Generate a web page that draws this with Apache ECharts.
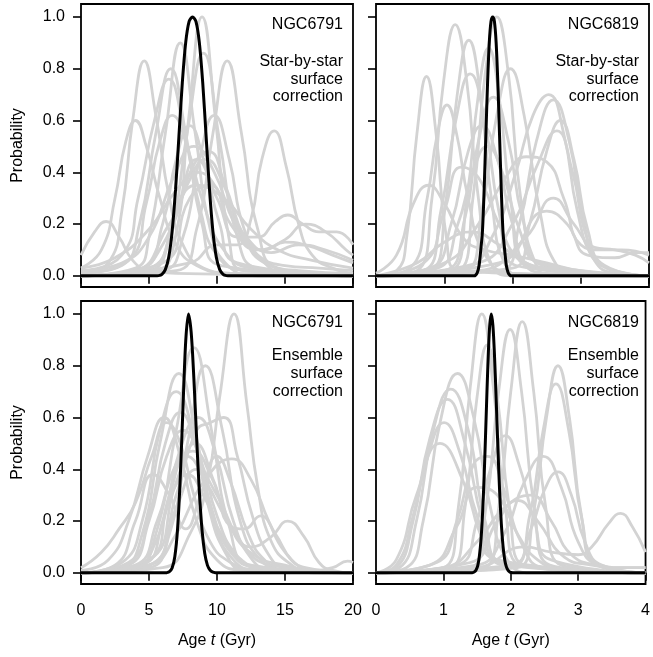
<!DOCTYPE html>
<html>
<head>
<meta charset="utf-8">
<script src="https://cdn.jsdelivr.net/npm/echarts@6/dist/echarts.min.js"></script>
<style>
html,body{margin:0;padding:0;background:#fff;}
#chart{width:653px;height:657px;}
</style>
</head>
<body>
<div id="chart"></div>
<script>
// ---------- tick labels / ranges ----------
const yTickValues = [0, 0.2, 0.4, 0.6, 0.8, 1.0];
const xRangeNGC6791 = [0, 20];
const xRangeNGC6819 = [0, 4];
const xTickStepNGC6791 = 5;
const xTickStepNGC6819 = 1;
const panelNames = ['NGC6791', 'NGC6819', 'NGC6791', 'NGC6819'];
const methodTop = ['Star-by-star', 'surface', 'correction'];
const methodBottom = ['Ensemble', 'surface', 'correction'];
const yAxisTitle = 'Probability';

// ---------- NGC6791, star-by-star correction: individual stars (grey) ----------
const grey6791Star = [
  [[0,0.08],[1,0.17],[1.85,0.21],[2.8,0.15],[3.8,0.06],[5,0.02],[7,0.01],[20,0]],
  [[0,0.01],[2,0.05],[3,0.25],[3.8,0.6],[4.65,0.83],[5.5,0.62],[6.5,0.3],[7.5,0.12],[9,0.03],[11,0.01],[20,0]],
  [[0,0.03],[1.5,0.1],[2.5,0.3],[3.3,0.52],[4.0,0.6],[4.8,0.5],[5.8,0.3],[7,0.12],[8.5,0.04],[11,0.01],[20,0]],
  [[0,0],[4,0.03],[5,0.15],[6.2,0.55],[7.3,0.9],[8.4,0.55],[9.5,0.18],[10.8,0.04],[13,0],[20,0]],
  [[0,0],[5.5,0.02],[6.9,0.14],[7.9,0.6],[8.9,1.0],[9.9,0.6],[10.9,0.14],[12,0.02],[20,0]],
  [[0,0],[5,0.02],[6.5,0.15],[7.8,0.55],[9.0,0.86],[10.2,0.52],[11.5,0.15],[13,0.03],[20,0]],
  [[0,0],[7,0.02],[8.5,0.18],[9.7,0.55],[10.75,0.83],[11.8,0.55],[13,0.18],[14.5,0.03],[20,0]],
  [[0,0.01],[3,0.04],[4.3,0.2],[5.5,0.55],[6.6,0.8],[7.7,0.55],[8.9,0.2],[10.3,0.04],[20,0]],
  [[0,0.02],[3,0.08],[4.2,0.3],[5.4,0.6],[6.45,0.76],[7.6,0.55],[8.8,0.25],[10,0.08],[12,0.02],[20,0]],
  [[0,0.01],[3.5,0.06],[4.8,0.28],[5.8,0.52],[6.7,0.62],[7.8,0.5],[9,0.28],[10.5,0.1],[12.5,0.03],[20,0]],
  [[0,0],[6,0.02],[7.5,0.15],[8.7,0.45],[9.8,0.62],[10.9,0.45],[12,0.18],[13.5,0.05],[15,0.01],[20,0]],
  [[0,0],[8,0.05],[10,0.12],[11.5,0.12],[12.5,0.22],[13.3,0.45],[14.2,0.56],[15.1,0.42],[16,0.2],[17,0.08],[18.5,0.03],[20,0.01]],
  [[0,0],[5,0.03],[7,0.25],[8.5,0.45],[10,0.3],[11.5,0.15],[13,0.15],[14.3,0.21],[15.2,0.235],[16.3,0.2],[17.5,0.17],[18.8,0.17],[20,0.12]],
  [[0,0],[4.5,0.03],[6,0.2],[7,0.45],[8,0.58],[9,0.45],[10.2,0.2],[11.5,0.05],[20,0]],
  [[0,0.02],[3,0.05],[5,0.15],[6.8,0.38],[8.3,0.5],[9.8,0.4],[11.3,0.2],[13,0.08],[15,0.04],[17.5,0.03],[20,0.02]],
  [[0,0],[4,0.02],[6,0.12],[7.8,0.35],[9.2,0.45],[10.5,0.35],[12,0.15],[13.5,0.1],[15,0.13],[16.5,0.12],[18.5,0.08],[20,0.05]],
  [[0,0.03],[2.5,0.07],[5,0.18],[7,0.33],[8.6,0.4],[10.2,0.32],[12,0.16],[14,0.09],[16,0.12],[18,0.1],[20,0.06]],
  [[0,0],[6,0.05],[8,0.3],[9.5,0.35],[11,0.2],[13,0.1],[15,0.14],[16.5,0.2],[18,0.17],[19.5,0.1],[20,0.08]],
  [[0,0],[5,0.03],[6.8,0.2],[8.2,0.42],[9.4,0.48],[10.6,0.35],[12,0.15],[13.5,0.05],[16,0.02],[20,0.01]],
  [[0,0],[4,0.02],[6.5,0.2],[8.5,0.35],[10.5,0.3],[12.5,0.18],[14.5,0.1],[17,0.06],[20,0.03]]
];
// ---------- NGC6791, star-by-star correction: cluster (black) ----------
const black6791Star = [[0,0],[5.45,0],[5.7,0.001],[5.95,0.006],[6.2,0.024],[6.45,0.072],[6.7,0.171],[6.95,0.332],[7.2,0.539],[7.45,0.746],[7.7,0.902],[7.95,0.983],[8.2,1],[8.45,0.983],[8.7,0.902],[8.95,0.746],[9.2,0.539],[9.45,0.332],[9.7,0.171],[9.95,0.072],[10.2,0.024],[10.45,0.006],[10.7,0.001],[10.95,0],[20,0]];

// ---------- NGC6819, star-by-star correction ----------
const grey6819Star = [
  [[0,0],[0.3,0.02],[0.45,0.15],[0.6,0.55],[0.74,0.77],[0.88,0.55],[1.03,0.15],[1.2,0.02],[4,0]],
  [[0,0],[0.6,0.02],[0.82,0.3],[0.99,0.75],[1.16,0.97],[1.33,0.75],[1.5,0.3],[1.7,0.04],[2,0],[4,0]],
  [[0,0],[0.8,0.02],[1.02,0.28],[1.19,0.7],[1.36,0.91],[1.53,0.7],[1.7,0.28],[1.9,0.04],[2.2,0],[4,0]],
  [[0,0],[0.5,0.03],[0.75,0.3],[0.9,0.55],[1.04,0.66],[1.18,0.55],[1.35,0.3],[1.6,0.08],[2,0.01],[4,0]],
  [[0,0.01],[0.3,0.08],[0.55,0.28],[0.77,0.35],[1.0,0.28],[1.3,0.14],[1.6,0.1],[2,0.08],[2.5,0.05],[3,0.02],[4,0]],
  [[0,0],[1.2,0.02],[1.42,0.3],[1.6,0.78],[1.77,1.0],[1.94,0.78],[2.12,0.3],[2.35,0.04],[2.6,0],[4,0]],
  [[0,0],[1.1,0.02],[1.33,0.3],[1.5,0.7],[1.65,0.88],[1.8,0.7],[1.97,0.3],[2.2,0.04],[4,0]],
  [[0,0],[1.3,0.02],[1.55,0.25],[1.77,0.62],[1.97,0.8],[2.17,0.62],[2.4,0.25],[2.65,0.04],[3,0],[4,0]],
  [[0,0],[0.7,0.02],[0.95,0.25],[1.17,0.6],[1.38,0.78],[1.59,0.6],[1.8,0.25],[2.05,0.04],[4,0]],
  [[0,0],[1.0,0.02],[1.3,0.22],[1.5,0.52],[1.72,0.69],[1.94,0.52],[2.15,0.22],[2.45,0.04],[4,0]],
  [[0,0],[1.3,0.03],[1.7,0.15],[2.05,0.4],[2.3,0.62],[2.53,0.7],[2.75,0.55],[2.95,0.25],[3.2,0.06],[3.5,0.01],[4,0]],
  [[0,0],[1.8,0.02],[2.1,0.2],[2.35,0.52],[2.6,0.68],[2.83,0.52],[3.05,0.2],[3.3,0.04],[4,0]],
  [[0,0],[2.0,0.03],[2.25,0.2],[2.5,0.48],[2.7,0.6],[2.9,0.45],[3.1,0.18],[3.35,0.04],[4,0]],
  [[0,0],[1.5,0.05],[2.0,0.2],[2.35,0.42],[2.65,0.56],[2.88,0.4],[3.1,0.14],[3.4,0.03],[4,0]],
  [[0,0],[1.0,0.05],[1.5,0.2],[1.9,0.38],[2.2,0.46],[2.5,0.44],[2.75,0.3],[3.0,0.12],[3.3,0.1],[3.6,0.1],[4,0.08]],
  [[0,0],[0.9,0.03],[1.2,0.2],[1.42,0.4],[1.63,0.5],[1.85,0.4],[2.1,0.18],[2.4,0.05],[4,0]],
  [[0,0],[1.5,0.02],[2.2,0.15],[2.6,0.3],[2.9,0.2],[3.2,0.11],[3.5,0.1],[3.8,0.08],[4,0.05]],
  [[0,0],[1.8,0.05],[2.5,0.25],[2.8,0.2],[3.1,0.08],[3.5,0.07],[3.8,0.09],[4,0.09]],
  [[0,0],[0.6,0.05],[1.0,0.13],[1.4,0.17],[1.8,0.12],[2.2,0.05],[2.6,0.02],[4,0]],
  [[0,0],[0.7,0.05],[1.0,0.25],[1.25,0.42],[1.5,0.38],[1.8,0.2],[2.1,0.06],[2.5,0.01],[4,0]],
  [[0,0],[0.8,0.03],[1.1,0.2],[1.35,0.48],[1.55,0.58],[1.78,0.45],[2.0,0.2],[2.3,0.04],[4,0]]
];
const black6819Star = [[0,0],[1.435,0],[1.46,0.003],[1.485,0.013],[1.51,0.04],[1.535,0.1],[1.56,0.174],[1.585,0.337],[1.61,0.545],[1.635,0.748],[1.66,0.902],[1.685,0.983],[1.71,1],[1.735,0.983],[1.76,0.902],[1.785,0.748],[1.81,0.545],[1.835,0.337],[1.86,0.174],[1.885,0.1],[1.91,0.04],[1.935,0.013],[1.96,0.003],[1.985,0],[4,0]];

// ---------- NGC6791, ensemble correction ----------
const grey6791Ens = [
  [[0,0],[6,0.02],[8,0.15],[9.3,0.35],[10.2,0.68],[11.25,1.0],[12.2,0.65],[13.0,0.33],[14,0.12],[15.5,0.03],[17,0],[20,0]],
  [[0,0],[3,0.02],[4.5,0.15],[5.8,0.5],[7.2,0.77],[8.5,0.52],[9.8,0.2],[11.2,0.05],[13,0.01],[20,0]],
  [[0,0],[4,0.02],[5.5,0.15],[7,0.55],[8.3,0.87],[9.6,0.55],[10.9,0.18],[12.5,0.03],[20,0]],
  [[0,0],[5,0.02],[6.5,0.15],[7.9,0.52],[9.15,0.8],[10.4,0.55],[11.7,0.2],[13.2,0.05],[15,0.01],[20,0]],
  [[0,0.01],[2,0.05],[3.5,0.2],[4.9,0.45],[6.1,0.6],[7.3,0.45],[8.5,0.2],[10,0.05],[12,0.01],[20,0]],
  [[0,0],[5,0.03],[7,0.3],[8.5,0.55],[9.5,0.58],[10.5,0.6],[11.5,0.45],[12.6,0.22],[13.8,0.07],[15,0.02],[20,0]],
  [[0,0],[5,0.03],[7,0.15],[9,0.35],[11.1,0.44],[12.5,0.36],[13.8,0.2],[15,0.08],[16.5,0.02],[20,0]],
  [[0,0],[5,0.05],[7,0.35],[8.4,0.5],[9.8,0.35],[11,0.18],[12,0.17],[13.2,0.22],[14.3,0.15],[15.5,0.05],[17,0.01],[20,0]],
  [[0,0],[5,0.05],[6.5,0.3],[7.8,0.45],[9.2,0.35],[10.8,0.2],[12.5,0.1],[14,0.14],[15.2,0.2],[16.4,0.14],[17.5,0.04],[18.5,0.01],[20,0]],
  [[0,0.02],[1.5,0.08],[2.8,0.17],[4,0.27],[5.2,0.45],[6.3,0.58],[7.3,0.5],[8.3,0.3],[9.5,0.12],[11,0.04],[13,0.01],[20,0]],
  [[0,0],[2.5,0.03],[4,0.2],[5.3,0.38],[6.5,0.3],[7.7,0.17],[8.8,0.3],[10,0.45],[11,0.35],[12.3,0.15],[13.5,0.05],[15,0.01],[20,0]],
  [[0,0],[4,0.02],[5.5,0.12],[6.8,0.32],[7.8,0.38],[9,0.3],[10.3,0.15],[11.8,0.05],[13.5,0.01],[20,0]],
  [[0,0],[3.5,0.03],[5,0.2],[6.3,0.45],[7.5,0.55],[8.7,0.45],[10,0.22],[11.4,0.07],[13,0.02],[20,0]],
  [[0,0],[5,0.03],[7,0.25],[8.5,0.4],[10,0.3],[11.5,0.14],[13,0.06],[15,0.03],[17,0.01],[18.5,0.02],[19.6,0.045],[20,0.04]],
  [[0,0],[4.5,0.03],[6,0.2],[7.3,0.48],[8.6,0.6],[9.9,0.46],[11.2,0.2],[12.6,0.05],[14,0.01],[20,0]],
  [[0,0],[3,0.04],[4.5,0.2],[5.8,0.55],[7,0.7],[8.2,0.55],[9.4,0.25],[10.7,0.07],[12,0.01],[20,0]],
  [[0,0],[3.5,0.04],[5,0.22],[6.2,0.5],[7.3,0.62],[8.4,0.5],[9.6,0.25],[11,0.08],[13,0.02],[20,0]],
  [[0,0],[4,0.03],[5.6,0.2],[7,0.42],[8.2,0.47],[9.5,0.38],[10.8,0.2],[12.3,0.08],[14,0.03],[20,0]]
];
const black6791Ens = [[0,0],[6.1,0],[6.3,0.0008],[6.5,0.0044],[6.7,0.0185],[6.9,0.063],[7.1,0.17],[7.3,0.369],[7.5,0.642],[7.7,0.895],[7.9,1],[8.1,0.93],[8.3,0.75],[8.5,0.523],[8.7,0.316],[8.9,0.165],[9.1,0.075],[9.3,0.029],[9.5,0.01],[9.7,0.003],[9.9,0.0007],[10.1,0],[20,0]];

// ---------- NGC6819, ensemble correction ----------
const grey6819Ens = [
  [[0,0],[1.0,0.02],[1.22,0.25],[1.4,0.72],[1.57,1.0],[1.74,0.72],[1.92,0.25],[2.15,0.03],[4,0]],
  [[0,0],[1.4,0.02],[1.63,0.25],[1.82,0.7],[1.99,0.94],[2.16,0.7],[2.35,0.25],[2.58,0.03],[4,0]],
  [[0,0],[1.6,0.02],[1.82,0.25],[2.0,0.7],[2.17,0.97],[2.34,0.7],[2.52,0.25],[2.75,0.03],[4,0]],
  [[0,0],[2.1,0.02],[2.33,0.22],[2.53,0.6],[2.7,0.8],[2.87,0.6],[3.05,0.22],[3.28,0.03],[4,0]],
  [[0,0],[2.0,0.02],[2.28,0.22],[2.48,0.55],[2.67,0.73],[2.86,0.55],[3.06,0.2],[3.3,0.03],[4,0]],
  [[0,0],[0.45,0.02],[0.7,0.2],[0.95,0.58],[1.21,0.77],[1.45,0.6],[1.7,0.25],[1.95,0.05],[2.3,0],[4,0]],
  [[0,0],[0.35,0.02],[0.6,0.2],[0.85,0.55],[1.11,0.71],[1.37,0.55],[1.62,0.2],[1.9,0.04],[4,0]],
  [[0,0],[0.3,0.02],[0.55,0.2],[0.8,0.52],[1.06,0.67],[1.32,0.5],[1.58,0.2],[1.85,0.04],[4,0]],
  [[0,0],[0.3,0.03],[0.55,0.22],[0.78,0.46],[1.01,0.58],[1.25,0.46],[1.5,0.22],[1.8,0.05],[4,0]],
  [[0,0],[1.1,0.02],[1.32,0.25],[1.5,0.68],[1.65,0.88],[1.8,0.68],[1.98,0.25],[2.2,0.03],[4,0]],
  [[0,0],[1.5,0.03],[1.9,0.15],[2.2,0.35],[2.48,0.45],[2.75,0.33],[3.0,0.12],[3.3,0.03],[4,0]],
  [[0,0],[2.0,0.03],[2.3,0.17],[2.5,0.32],[2.7,0.39],[2.9,0.3],[3.1,0.12],[3.35,0.03],[4,0]],
  [[0,0],[1.5,0.02],[2.2,0.1],[2.6,0.08],[3.0,0.07],[3.2,0.1],[3.45,0.19],[3.63,0.23],[3.8,0.18],[4,0.08]],
  [[0,0],[1.2,0.03],[1.5,0.2],[1.72,0.42],[1.92,0.53],[2.12,0.42],[2.35,0.2],[2.6,0.05],[4,0]],
  [[0,0],[0.8,0.03],[1.2,0.18],[1.5,0.33],[1.8,0.3],[2.1,0.15],[2.4,0.05],[2.8,0.01],[4,0]],
  [[0,0],[1.0,0.02],[1.5,0.12],[1.9,0.25],[2.3,0.3],[2.6,0.2],[2.9,0.07],[3.3,0.03],[3.7,0.02],[4,0.02]],
  [[0,0],[0.3,0.05],[0.6,0.3],[0.95,0.5],[1.3,0.35],[1.6,0.12],[1.9,0.03],[4,0]],
  [[0,0],[1.4,0.04],[1.8,0.2],[2.1,0.28],[2.4,0.2],[2.8,0.06],[3.2,0.03],[3.6,0.02],[4,0.02]],
  [[0,0],[0.9,0.04],[1.2,0.2],[1.45,0.42],[1.65,0.45],[1.9,0.32],[2.15,0.12],[2.5,0.02],[4,0]]
];
const black6819Ens = [[0,0],[1.41,0],[1.435,0.001],[1.46,0.004],[1.485,0.011],[1.51,0.028],[1.535,0.066],[1.56,0.135],[1.585,0.249],[1.61,0.411],[1.635,0.607],[1.66,0.801],[1.685,0.946],[1.71,1],[1.735,0.955],[1.76,0.83],[1.785,0.658],[1.81,0.475],[1.835,0.313],[1.86,0.188],[1.885,0.103],[1.91,0.051],[1.935,0.023],[1.96,0.0096],[1.985,0.0036],[2.01,0.0012],[2.035,0],[4,0]];

// ---------- build chart ----------
const FONT = '"Liberation Sans", Arial, Helvetica, sans-serif';
const FS = 16;
const GREY = '#d3d3d3';
const panels = [
  {left: 81, top: 4, width: 272, height: 283, range: xRangeNGC6791, step: xTickStepNGC6791, grey: grey6791Star, black: black6791Star, bottom: false, leftCol: true},
  {left: 376, top: 4, width: 273, height: 283, range: xRangeNGC6819, step: xTickStepNGC6819, grey: grey6819Star, black: black6819Star, bottom: false, leftCol: false},
  {left: 81, top: 301, width: 272, height: 283, range: xRangeNGC6791, step: xTickStepNGC6791, grey: grey6791Ens, black: black6791Ens, bottom: true, leftCol: true},
  {left: 376, top: 301, width: 273, height: 283, range: xRangeNGC6819, step: xTickStepNGC6819, grey: grey6819Ens, black: black6819Ens, bottom: true, leftCol: false}
];

const grids = [], xAxes = [], yAxes = [], series = [], graphics = [];
panels.forEach((p, i) => {
  grids.push({left: p.left, top: p.top, width: p.width, height: p.height, show: true,
    borderColor: '#000', borderWidth: 1.8, backgroundColor: 'transparent', containLabel: false});
  xAxes.push({
    type: 'value', gridIndex: i, min: p.range[0], max: p.range[1], interval: p.step,
    axisLine: {show: false},
    axisTick: {show: true, inside: false, length: 8, lineStyle: {color: '#000', width: 1.6}},
    axisLabel: {show: p.bottom, color: '#000', fontSize: FS, fontFamily: FONT, margin: 19},
    splitLine: {show: false},
    name: p.bottom ? '{a|Age }{i|t}{a| (Gyr)}' : '',
    nameLocation: 'middle', nameGap: 49,
    nameTextStyle: {rich: {
      a: {fontSize: FS, fontFamily: FONT, color: '#000'},
      i: {fontSize: FS, fontFamily: FONT, fontStyle: 'italic', color: '#000'}
    }}
  });
  yAxes.push({
    type: 'value', gridIndex: i, min: -0.043, max: 1.05,
    axisLine: {show: false},
    axisTick: {show: true, inside: false, length: 8, lineStyle: {color: '#000', width: 1.6}, customValues: yTickValues},
    axisLabel: {show: p.leftCol, color: '#000', fontSize: FS, fontFamily: FONT, margin: 16,
      customValues: yTickValues, formatter: v => Number(v).toFixed(1)},
    splitLine: {show: false},
    name: p.leftCol ? yAxisTitle : '',
    nameLocation: 'middle', nameGap: 55, nameRotate: 90,
    nameTextStyle: {fontSize: FS, fontFamily: FONT, color: '#000'}
  });
  p.grey.forEach(curve => {
    series.push({type: 'line', xAxisIndex: i, yAxisIndex: i, data: curve, smooth: 0.5,
      showSymbol: false, symbol: 'none', silent: true, z: 2,
      lineStyle: {color: GREY, width: 2.8}});
  });
  series.push({type: 'line', xAxisIndex: i, yAxisIndex: i, data: p.black, smooth: 0.3,
    showSymbol: false, symbol: 'none', silent: true, z: 3,
    lineStyle: {color: '#000', width: 3}});

  // annotations (right-aligned text in each panel)
  const rx = p.left + p.width - 10;
  const method = p.bottom ? methodBottom : methodTop;
  const ys = p.bottom ? [22, 55, 72.5, 91] : [21, 58, 75.5, 92.5];
  const lines = [panelNames[i]].concat(method);
  lines.forEach((t, k) => {
    graphics.push({type: 'text', x: rx, y: p.top + ys[k], z: 10, silent: true,
      style: {text: t, fill: '#000', font: FS + 'px ' + FONT, textAlign: 'right', textVerticalAlign: 'middle'}});
  });
});

const chart = echarts.init(document.getElementById('chart'), null, {renderer: 'canvas'});
chart.setOption({
  animation: false,
  backgroundColor: '#fff',
  grid: grids, xAxis: xAxes, yAxis: yAxes, series: series, graphic: graphics
});
</script>
</body>
</html>
